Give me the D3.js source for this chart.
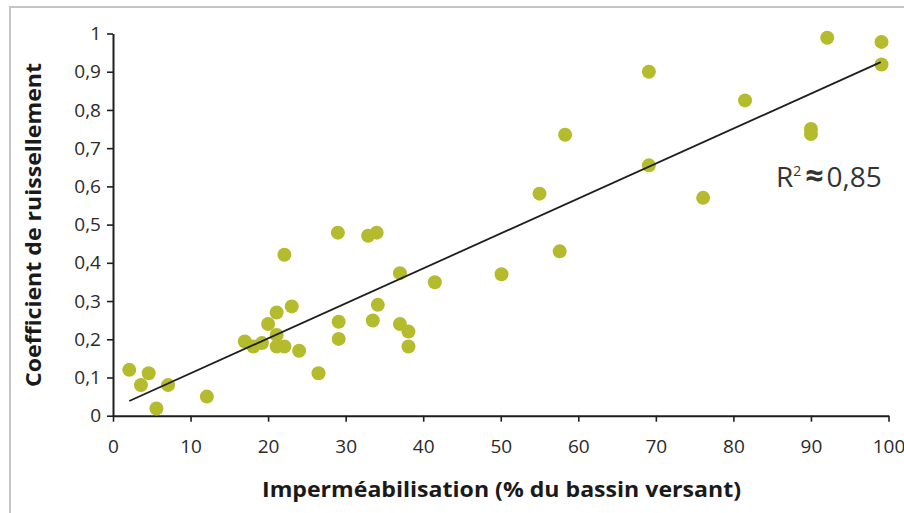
<!DOCTYPE html>
<html>
<head>
<meta charset="utf-8">
<script src="https://cdn.jsdelivr.net/npm/d3@7/dist/d3.min.js"></script>
<style>
  html, body { margin: 0; padding: 0; background: #fff; }
  svg { display: block; }
</style>
</head>
<body>
<svg id="chart" width="904" height="513"></svg>
<script>
// ---- Data ----
const impermeabilisation = [2.1, 3.6, 4.6, 5.6, 7.1, 12.1, 17.0, 18.1, 19.2, 20.0, 21.1, 21.1, 21.1, 22.1, 22.1, 23.05, 24.0, 26.5, 29.0, 29.1, 29.1, 32.9, 34.0, 33.5, 34.15, 37.0, 37.0, 38.1, 38.1, 41.5, 50.1, 55.0, 57.6, 58.3, 69.1, 69.1, 76.1, 81.5, 90.0, 90.0, 92.1, 99.1, 99.1];
const coefficient = [0.12, 0.08, 0.111, 0.019, 0.08, 0.05, 0.194, 0.181, 0.19, 0.24, 0.27, 0.211, 0.181, 0.181, 0.421, 0.286, 0.17, 0.111, 0.479, 0.246, 0.201, 0.471, 0.479, 0.249, 0.29, 0.373, 0.24, 0.22, 0.181, 0.349, 0.37, 0.581, 0.43, 0.735, 0.9, 0.655, 0.57, 0.825, 0.75, 0.737, 0.989, 0.978, 0.919];
const xTicks = [0, 10, 20, 30, 40, 50, 60, 70, 80, 90, 100];
const yTicks = [0, 0.1, 0.2, 0.3, 0.4, 0.5, 0.6, 0.7, 0.8, 0.9, 1];
const yTickLabels = ["0", "0,1", "0,2", "0,3", "0,4", "0,5", "0,6", "0,7", "0,8", "0,9", "1"];
const trendX = [2.1, 99];           // extent of the fitted line
const trendSlope = 0.00915;
const trendIntercept = 0.0193;
const r2Label = "0,85";
const xTitle = "Imperméabilisation (% du bassin versant)";
const yTitle = "Coefficient de ruissellement";

// ---- Layout ----
const svg = d3.select("#chart");
const FONT = "'Open Sans', 'DejaVu Sans', sans-serif";

// frame
svg.append("rect")
  .attr("x", 10).attr("y", 7).attr("width", 1000).attr("height", 1000)
  .attr("fill", "none").attr("stroke", "#c4c4c4").attr("stroke-width", 2);

const x = d3.scaleLinear().domain([0, 100]).range([113, 888.5]);
const y = d3.scaleLinear().domain([0, 1]).range([415.7, 33.5]);

// axes
const xAxis = d3.axisBottom(x).tickValues(xTicks).tickSize(6).tickSizeOuter(0).tickPadding(18);
const yAxis = d3.axisLeft(y).tickValues(yTicks).tickSize(6).tickSizeOuter(0).tickPadding(6)
  .tickFormat((d, i) => yTickLabels[i]);

const gx = svg.append("g").attr("transform", `translate(0,${y(0)})`).call(xAxis);
const gy = svg.append("g").attr("transform", `translate(${x(0)},0)`).call(yAxis);

[gx, gy].forEach(g => {
  g.select(".domain").attr("stroke", "#1e1e1e").attr("stroke-width", 2);
  g.selectAll(".tick line").attr("stroke", "#1e1e1e").attr("stroke-width", 1.6);
  g.selectAll(".tick text")
    .attr("font-family", FONT).attr("font-size", 19).attr("fill", "#2a2a2a");
});

// points
const pts = impermeabilisation.map((v, i) => ({ x: v, y: coefficient[i] }));
svg.append("g").selectAll("circle").data(pts).join("circle")
  .attr("cx", d => x(d.x)).attr("cy", d => y(d.y)).attr("r", 7)
  .attr("fill", "#b4bb2c");

// trend line
const line = d3.line().x(d => x(d)).y(d => y(trendIntercept + trendSlope * d));
svg.append("path").datum(trendX).attr("d", line)
  .attr("fill", "none").attr("stroke", "#1e1e1e").attr("stroke-width", 1.8);

// R² label
const rt = svg.append("text").attr("x", 776).attr("y", 187)
  .attr("font-family", FONT).attr("font-size", 28).attr("fill", "#333");
rt.append("tspan").text("R");
rt.append("tspan").attr("font-size", 14).attr("dy", -11).text("2");
rt.append("tspan").attr("dy", 11).attr("dx", 4).attr("font-size", 32).attr("font-weight", "bold").text("≈");
rt.append("tspan").attr("dx", 3).text(r2Label);

// axis titles
svg.append("text")
  .attr("x", (262 + 741) / 2).attr("y", 497)
  .attr("text-anchor", "middle")
  .attr("font-family", FONT).attr("font-weight", "bold").attr("font-size", 22)
  .attr("textLength", 479).attr("lengthAdjust", "spacingAndGlyphs")
  .attr("fill", "#1a1a1a")
  .text(xTitle);

svg.append("text")
  .attr("transform", `translate(41,${(63 + 387) / 2}) rotate(-90)`)
  .attr("text-anchor", "middle")
  .attr("font-family", FONT).attr("font-weight", "bold").attr("font-size", 22)
  .attr("textLength", 324).attr("lengthAdjust", "spacingAndGlyphs")
  .attr("fill", "#1a1a1a")
  .text(yTitle);
</script>
</body>
</html>
